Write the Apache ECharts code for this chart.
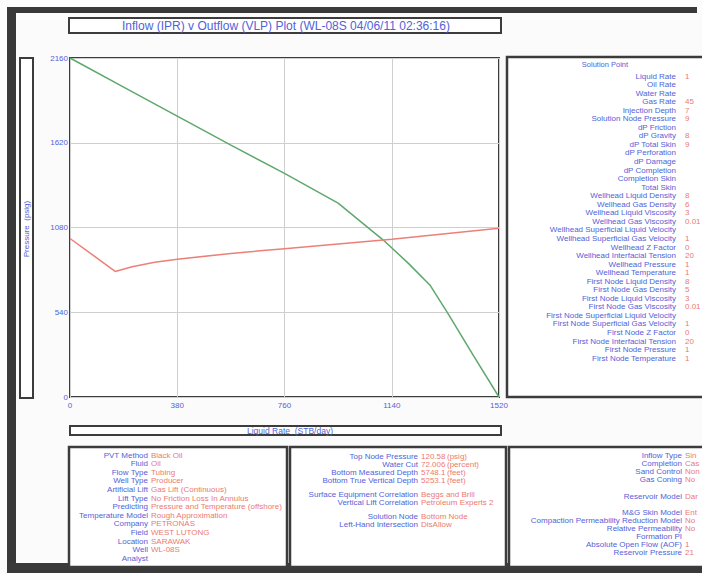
<!DOCTYPE html>
<html><head><meta charset="utf-8">
<script src="https://cdn.jsdelivr.net/npm/echarts@6/dist/echarts.min.js"></script>
<style>html,body{margin:0;padding:0;background:#fbfbfb;}#c{width:702px;height:573px;}</style>
</head><body><div id="c"></div>
<script>
// ---- chart data ----
const xTicks = [0, 380, 760, 1140, 1520];
const yTicks = [0, 540, 1080, 1620, 2160];
const iprRate = [0, 190, 380, 570, 760, 950, 1045, 1110, 1200, 1275, 1340, 1430, 1520];
const iprPressure = [2160, 1975, 1790, 1605, 1425, 1235, 1095, 1000, 850, 714, 530, 262, 0];
const vlpRate = [0, 80, 160, 220, 300, 380, 570, 760, 950, 1140, 1330, 1520];
const vlpPressure = [1010, 905, 800, 830, 858, 878, 915, 945, 975, 1005, 1040, 1075];

const titleText = 'Inflow (IPR) v Outflow (VLP) Plot (WL-08S 04/06/11 02:36:16)';
const xTitle = 'Liquid Rate  (STB/day)';
const yTitle = 'Pressure  (psig)';

const solLabels = ['Liquid Rate','Oil Rate','Water Rate','Gas Rate','Injection Depth','Solution Node Pressure','dP Friction','dP Gravity','dP Total Skin','dP Perforation','dP Damage','dP Completion','Completion Skin','Total Skin','Wellhead Liquid Density','Wellhead Gas Density','Wellhead Liquid Viscosity','Wellhead Gas Viscosity','Wellhead Superficial Liquid Velocity','Wellhead Superficial Gas Velocity','Wellhead Z Factor','Wellhead Interfacial Tension','Wellhead Pressure','Wellhead Temperature','First Node Liquid Density','First Node Gas Density','First Node Liquid Viscosity','First Node Gas Viscosity','First Node Superficial Liquid Velocity','First Node Superficial Gas Velocity','First Node Z Factor','First Node Interfacial Tension','First Node Pressure','First Node Temperature'];
const solValues = ['1','','','45','7','9','','8','9','','','','','','8','6','3','0.01','','1','0','20','1','1','8','5','3','0.01','','1','0','20','1','1'];

const p1Labels = ['PVT Method','Fluid','Flow Type','Well Type','Artificial Lift','Lift Type','Predicting','Temperature Model','Company','Field','Location','Well','Analyst'];
const p1Values = ['Black Oil','Oil','Tubing','Producer','Gas Lift (Continuous)','No Friction Loss In Annulus','Pressure and Temperature (offshore)','Rough Approximation','PETRONAS','WEST LUTONG','SARAWAK','WL-08S',''];

const p2Labels = ['Top Node Pressure','Water Cut','Bottom Measured Depth','Bottom True Vertical Depth','Surface Equipment Correlation','Vertical Lift Correlation','Solution Node','Left-Hand Intersection'];
const p2Values = ['120.58','72.006','5748.1','5253.1','Beggs and Brill','Petroleum Experts 2','Bottom Node','DisAllow'];
const p2Units = ['(psig)','(percent)','(feet)','(feet)','','','',''];

const p3Labels = ['Inflow Type','Completion','Sand Control','Gas Coning','Reservoir Model','M&G Skin Model','Compaction Permeability Reduction Model','Relative Permeability','Formation PI','Absolute Open Flow (AOF)','Reservoir Pressure'];
const p3Values = ['Sin','Cas','Non','No','Dar','Ent','No','No','','1','21'];

// ---- styles ----
const BLUE = '#5262d8', RED = '#ec7a72', DARK = '#3c3c3c';
const FF = '"Liberation Sans", Arial, sans-serif';
const FONT = '8px ' + FF;
const g = [];
function rect(x, y, w, h, opt) {
  g.push(Object.assign({type: 'rect', shape: {x, y, width: w, height: h},
    style: {fill: 'none', stroke: DARK, lineWidth: 2}}, opt || {}));
}
function txt(x, y, t, fill, align, font) {
  if (!t) return;
  g.push({type: 'text', style: {x, y, text: t, fill, font: font || FONT,
    align: align, textAlign: align, verticalAlign: 'middle', textVerticalAlign: 'middle'}});
}
// dark scan borders
rect(7, 7, 690, 6, {style: {fill: '#383838'}});
rect(7, 7, 9, 566, {style: {fill: '#383838'}});
rect(7, 563, 695, 10, {style: {fill: '#3a3a3a'}});
// title box
rect(69, 18, 432, 15, {style: {fill: '#fff', stroke: DARK, lineWidth: 2}});
txt(286, 25.5, titleText, BLUE, 'center', '12px ' + FF);
// y title box
rect(20, 58, 13, 340, {style: {fill: '#fff', stroke: DARK, lineWidth: 2}});
g.push({type: 'text', x: 26.5, y: 229, rotation: Math.PI / 2,
  style: {x: 0, y: 0, text: yTitle, fill: BLUE, font: FONT, align: 'center', textAlign: 'center', verticalAlign: 'middle', textVerticalAlign: 'middle'}});
// x title box
rect(70, 426, 431, 9, {style: {fill: '#fff', stroke: DARK, lineWidth: 2}});
txt(290, 430.5, xTitle, BLUE, 'center', '8.5px ' + FF);
// right solution panel
rect(507, 57, 210, 340, {style: {fill: '#fff', stroke: DARK, lineWidth: 2.5}});
txt(605, 64, 'Solution Point', BLUE, 'center', '7.5px ' + FF);
solLabels.forEach((l, i) => { const y = 76 + i * 8.55; txt(676, y, l, BLUE, 'right'); txt(685, y, solValues[i], RED, 'left'); });
// bottom panels
rect(69, 447, 218, 120, {style: {fill: '#fff', stroke: DARK, lineWidth: 2.5}});
rect(290, 447, 216, 120, {style: {fill: '#fff', stroke: DARK, lineWidth: 2.5}});
rect(509, 447, 210, 120, {style: {fill: '#fff', stroke: DARK, lineWidth: 2.5}});
p1Labels.forEach((l, i) => { const y = 455 + i * 8.6; txt(148, y, l, BLUE, 'right'); txt(151, y, p1Values[i], RED, 'left'); });
const p2Y = [456, 464, 472, 480, 494, 502, 516, 524];
p2Labels.forEach((l, i) => { txt(418, p2Y[i], l, BLUE, 'right'); txt(421, p2Y[i], p2Values[i], RED, 'left'); txt(447, p2Y[i], p2Units[i], RED, 'left'); });
const p3Y = [455, 463, 471, 479, 496, 512, 520, 528, 536, 544, 552];
p3Labels.forEach((l, i) => { txt(682, p3Y[i], l, BLUE, 'right'); txt(685, p3Y[i], p3Values[i], RED, 'left'); });

const chart = echarts.init(document.getElementById('c'), null, {renderer: 'svg'});
chart.setOption({
  animation: false,
  backgroundColor: '#fbfbfb',
  grid: {left: 70, top: 58, width: 429, height: 339, show: true, backgroundColor: '#fff', borderColor: DARK, borderWidth: 2},
  xAxis: {type: 'value', min: xTicks[0], max: xTicks[xTicks.length - 1], interval: xTicks[1] - xTicks[0],
    axisLine: {show: false}, axisTick: {show: false},
    splitLine: {lineStyle: {color: '#cfcfcf', width: 1}},
    axisLabel: {color: BLUE, fontSize: 8, fontFamily: 'Liberation Sans', margin: 4, formatter: v => String(v)}},
  yAxis: {type: 'value', min: yTicks[0], max: yTicks[yTicks.length - 1], interval: yTicks[1] - yTicks[0],
    axisLine: {show: false}, axisTick: {show: false},
    splitLine: {lineStyle: {color: '#cfcfcf', width: 1}},
    axisLabel: {color: BLUE, fontSize: 8, fontFamily: 'Liberation Sans', margin: 2, formatter: v => String(v)}},
  series: [
    {type: 'line', name: 'IPR', data: iprRate.map((r, i) => [r, iprPressure[i]]), symbol: 'none',
      lineStyle: {color: '#5ea86c', width: 1.5}, z: 3},
    {type: 'line', name: 'VLP', data: vlpRate.map((r, i) => [r, vlpPressure[i]]), symbol: 'none',
      lineStyle: {color: '#ec8078', width: 1.5}, z: 3}
  ],
  graphic: {elements: g}
});
</script></body></html>
